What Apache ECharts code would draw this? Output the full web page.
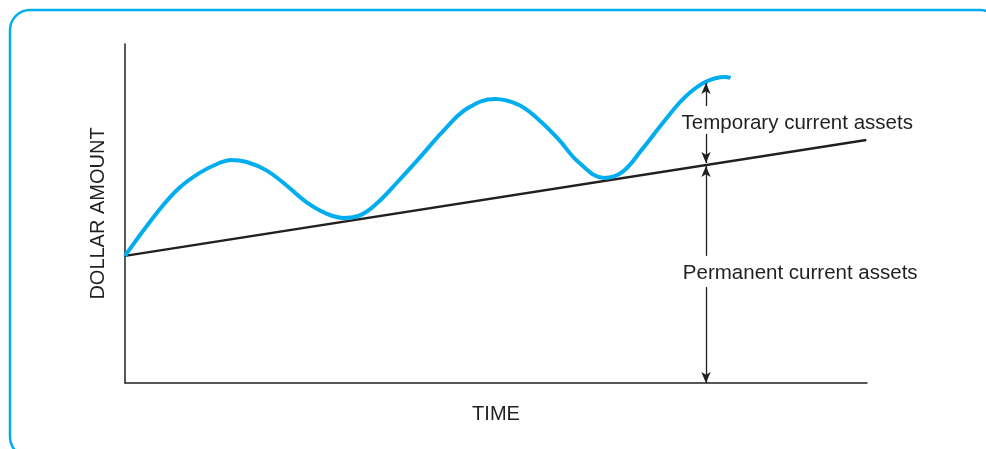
<!DOCTYPE html>
<html>
<head>
<meta charset="utf-8">
<script src="https://cdn.jsdelivr.net/npm/echarts@6/dist/echarts.min.js"></script>
<style>
html,body{margin:0;padding:0;background:#fff;}
#chart{width:986px;height:449px;}
</style>
</head>
<body>
<div id="chart"></div>
<script>
// Total current assets (wavy curve): [time, dollar amount]
const totalAssets = [
  [0, 37.5], [4.6, 51.0], [7.3, 57.5], [10.0, 61.9], [12.7, 64.9], [14.3, 65.8],
  [16.4, 65.2], [19.0, 62.8], [21.7, 58.4], [24.4, 53.4], [27.0, 50.1], [29.4, 48.7],
  [31.8, 49.6], [34.0, 53.1], [36.6, 59.0], [39.8, 66.7], [43.0, 74.6], [46.2, 81.1],
  [49.9, 83.8], [53.1, 82.0], [55.8, 77.6], [58.5, 71.7], [61.1, 65.2], [64.6, 60.5],
  [67.0, 62.2], [69.6, 68.7], [72.8, 77.6], [75.5, 84.4], [78.2, 88.8], [80.9, 90.3],
  [81.6, 90.0]
];
// Permanent current assets (straight trend line)
const permanentAssets = [[0, 37.5], [99.9, 71.7]];
// Arrow segments at the measuring time: [fromY, toY]
const arrowX = 78.3;
const arrows = [
  [81.7, 88.5],
  [73.5, 64.9],
  [37.5, 64.0],
  [28.3, 0]
];
// Annotation labels: [x, y, text]
const annotations = [
  [90.6, 76.7, 'Temporary current assets'],
  [91.0, 32.4, 'Permanent current assets']
];
const xAxisName = 'TIME';
const yAxisName = 'DOLLAR AMOUNT';

const FONT = 'Liberation Sans';
const INK = '#231f20';

const chart = echarts.init(document.getElementById('chart'));
chart.setOption({
  animation: false,
  backgroundColor: '#fff',
  grid: {left: 125, top: 44, width: 742, height: 339},
  graphic: [{
    type: 'rect',
    shape: {x: 10, y: 10, width: 990, height: 447, r: 20},
    style: {fill: 'none', stroke: '#00aeef', lineWidth: 2.5},
    silent: true
  }],
  xAxis: {
    type: 'value', min: 0, max: 100,
    name: xAxisName, nameLocation: 'middle', nameGap: 21,
    nameTextStyle: {fontFamily: FONT, fontSize: 20, color: INK},
    axisLine: {show: true, lineStyle: {color: INK, width: 1.5}},
    axisTick: {show: false}, axisLabel: {show: false}, splitLine: {show: false}
  },
  yAxis: {
    type: 'value', min: 0, max: 100,
    name: yAxisName, nameLocation: 'middle', nameGap: 17,
    nameTextStyle: {fontFamily: FONT, fontSize: 20, color: INK},
    axisLine: {show: true, lineStyle: {color: INK, width: 1.5}},
    axisTick: {show: false}, axisLabel: {show: false}, splitLine: {show: false}
  },
  series: [
    {
      type: 'line', data: permanentAssets, symbol: 'none',
      lineStyle: {color: INK, width: 2.5}, z: 2
    },
    {
      type: 'line', data: totalAssets, symbol: 'none', smooth: 0.4,
      lineStyle: {color: '#00aeef', width: 4}, z: 3,
      markLine: {
        silent: true,
        symbol: ['none', 'arrow'],
        symbolSize: [7, 11],
        label: {show: false},
        lineStyle: {color: INK, width: 1.3, type: 'solid'},
        data: arrows.map(a => [{coord: [arrowX, a[0]]}, {coord: [arrowX, a[1]]}])
      }
    },
    {
      type: 'scatter', symbolSize: 0, z: 4,
      itemStyle: {opacity: 1},
      data: annotations.map(a => ({value: [a[0], a[1]], name: a[2]})),
      label: {
        show: true, position: 'inside', formatter: p => p.name,
        fontFamily: FONT, fontSize: 20.5, color: INK, opacity: 1
      }
    }
  ]
});
</script>
</body>
</html>
